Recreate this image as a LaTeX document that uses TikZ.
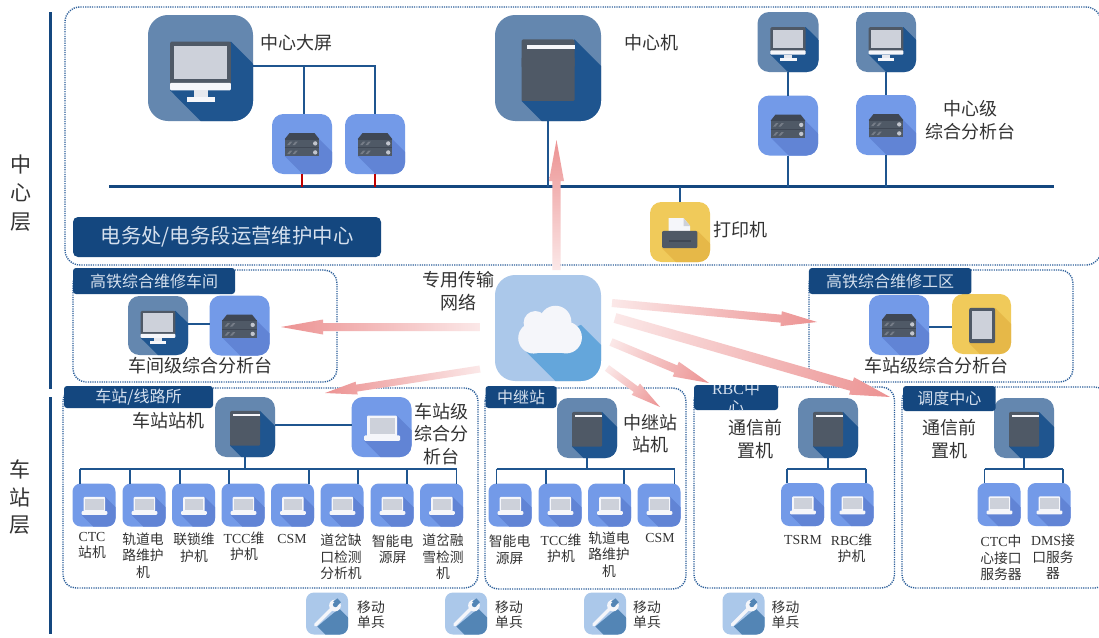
\documentclass[tikz,border=0pt]{standalone}
\usepackage{fontspec}
\setmainfont{Noto Sans CJK SC}
\newfontfamily\latf{Liberation Serif}
\usetikzlibrary{calc}
\definecolor{cNavy}{HTML}{14477F}
\definecolor{cLine}{HTML}{1F558F}
\definecolor{cDot}{HTML}{2C5F9A}
\definecolor{cSteel}{HTML}{6487AF}
\definecolor{cSteelD}{HTML}{1F558F}
\definecolor{cBlue}{HTML}{739AE8}
\definecolor{cBlueD}{HTML}{6184D5}
\definecolor{cSky}{HTML}{ABC8EA}
\definecolor{cSkyD}{HTML}{64A6DB}
\definecolor{cWrD}{HTML}{5385B5}
\definecolor{cYel}{HTML}{F0CA5A}
\definecolor{cYelD}{HTML}{E6B848}
\definecolor{cFrame}{HTML}{4F5966}
\definecolor{cDark}{HTML}{3F4754}
\definecolor{cScr}{HTML}{CDD1DA}
\definecolor{cWhite}{HTML}{F5F6FA}
\definecolor{cStand}{HTML}{E6E8EE}
\definecolor{cTxt}{HTML}{333333}
\definecolor{cHdrT}{HTML}{D5E0EE}
\definecolor{cArrA}{HTML}{FBE8E8}
\definecolor{cArrB}{HTML}{EC9292}
\newcommand\lat[1]{{\latf #1}}
\tikzset{
  iconbox/.style={inner sep=0pt,outer sep=0pt},
  zone/.style={draw=cDot,line width=1.4pt,dash pattern=on 1.2pt off 1.1pt,rounded corners=13pt},
  hdr/.style={fill=cNavy,rounded corners=3pt,inner sep=0pt,outer sep=0pt,text=cHdrT,font=\fontsize{16}{19}\selectfont},
  lblL/.style={inner sep=0pt,align=center,text=cTxt,font=\fontsize{18}{22.5}\selectfont},
  lblS/.style={inner sep=0pt,align=center,text=cTxt,font=\fontsize{13.8}{16.5}\selectfont},
  lay/.style={inner sep=0pt,text=cTxt,font=\fontsize{21}{21}\selectfont},
  wire/.style={draw=cLine,line width=1.7pt},
  bus/.style={draw=cNavy,line width=3pt},
  redwire/.style={draw=red!75!black,line width=1.7pt},
}
% --- a band of long shadow between two diagonals
\newcommand\shad[5]{\fill[#1] (#2,#3)--++(120,120)--(#4+120,#5+120)--(#4,#5)--cycle;}
\newcommand\gMon[1]{\shad{#1}{29}{-25}{-29}{21}
  \fill[cFrame,rounded corners=1.5pt] (-29,-25) rectangle (29,16);
  \fill[cScr] (-25,-20.5) rectangle (25,10.5);
  \fill[cWhite,rounded corners=1pt] (-29,14) rectangle (29,21);
  \fill[cStand] (-6,21) rectangle (7,27);
  \fill[cWhite] (-13,27) rectangle (14,32);}
\newcommand\gSrv[1]{\shad{#1}{29}{-8}{-29}{20}
  \fill[cDark] (-21,-18)--(21,-18)--(29,-8)--(-29,-8)--cycle;
  \fill[cFrame] (-29,-9) rectangle (29,20);
  \draw[cDark,line width=.7pt] (-29,6)--(29,6);
  \fill[cDark] (-29,-9) rectangle (29,-7.5);
  \foreach \yy in {-1,14}{
    \fill[cScr!90!cFrame] (22,\yy) circle (3.6);
    \foreach \xa in {-25,-16}{\fill[cFrame!78!white] (\xa,\yy+3)--(\xa+4,\yy+3)--(\xa+9,\yy-3)--(\xa+5,\yy-3)--cycle;}}}
\newcommand\gTow[1]{\shad{#1}{25}{-27}{-25}{31}
  \fill[cFrame,rounded corners=2pt] (-25,-27) rectangle (25,0);
  \fill[cFrame,rounded corners=1pt] (-25,-10) rectangle (25,31);
  \fill[cWhite] (-20,-22) rectangle (25,-18);}
\newcommand\gLap[1]{\shad{#1}{26}{-19}{-29}{23}
  \fill[cWhite,rounded corners=1pt] (-24,-19) rectangle (26,17);
  \fill[cScr] (-20,-15) rectangle (23,11);
  \fill[cWhite,rounded corners=1pt] (-29,14) rectangle (31,23);}
\newcommand\gCloud[1]{\shad{#1}{31}{-3}{-21}{22}
  \fill[cWhite] (7,-6) circle (15);
  \fill[cWhite] (-12,-5) circle (11);
  \fill[cWhite] (-13.5,9.5) circle (14.6);
  \fill[cWhite] (17,9) circle (15);
  \fill[cWhite] (-13,-3) rectangle (17,24);}
\newcommand\gPrn[1]{\shad{#1}{29}{-2}{-30}{27}
  \fill[cWhite] (-19,-23)--(6,-23)--(17,-10)--(17,5)--(-19,5)--cycle;
  \fill[cScr] (6,-23)--(17,-10)--(6,-10)--cycle;
  \fill[cFrame,rounded corners=2pt] (-30,-2) rectangle (29,27);
  \fill[cDark] (-19,13) rectangle (19,17);}
\newcommand\gTab[1]{\shad{#1}{23}{-27}{-21}{32}
  \fill[cFrame,rounded corners=2pt] (-21,-27) rectangle (23,32);
  \fill[cScr] (-16,-21) rectangle (18,25);}
\newcommand\gWr[1]{\shad{#1}{29}{-12}{-23}{31}
  \draw[cWhite,line width=3.3pt,line cap=round] (-27,27)--(12,-12);
  \fill[cWhite] (19,-19) circle (14);
  \fill[#1] (20,-21) circle (6);
  \fill[#1] (15,-29)--(25,-36)--(33,-27)--(25,-19)--cycle;}
% name, cx, cy, w, h, bg, shadow colour, glyph
\newcommand\icon[8]{%
  \pgfmathsetmacro\rr{0.19*#4}%
  \node[iconbox,fill=#6,minimum width=#4pt,minimum height=#5pt,rounded corners=\rr pt] (#1) at (#2,#3) {};
  \begin{scope}
    \clip[rounded corners=\rr pt] (#1.south west) rectangle (#1.north east);
    \begin{scope}[shift={(#2,#3)},xscale=#4/100,yscale=#5/100]
      #8{#7}
    \end{scope}
  \end{scope}}
\newcommand\mon[5]{\icon{#1}{#2}{#3}{#4}{#5}{cSteel}{cSteelD}{\gMon}}
\newcommand\tow[5]{\icon{#1}{#2}{#3}{#4}{#5}{cSteel}{cSteelD}{\gTow}}
\newcommand\srv[3]{\icon{#1}{#2}{#3}{60}{60}{cBlue}{cBlueD}{\gSrv}}
\newcommand\lap[3]{\icon{#1}{#2}{#3}{43}{43}{cBlue}{cBlueD}{\gLap}}
\newcommand\wrn[3]{\icon{#1}{#2}{#3}{42}{42}{cSky}{cWrD}{\gWr}}
% tail, head, shaft half width, head half width, head length
\newcommand\garrow[5]{%
  \pgfpointdiff{\pgfpointanchor{#1}{center}}{\pgfpointanchor{#2}{center}}%
  \pgfgetlastxy{\ddx}{\ddy}%
  \pgfmathsetmacro\aang{atan2(\ddy,\ddx)}%
  \pgfmathsetmacro\llen{veclen(\ddx,\ddy)}%
  \pgfpointanchor{#1}{center}\pgfgetlastxy{\ttx}{\tty}%
  \path[transform canvas={shift={(\ttx,\tty)},rotate=\aang},left color=cArrA,right color=cArrB]
    (0pt,-#3pt)--(\llen pt-#5pt,-#3pt)--(\llen pt-#5pt,-#4pt)--(\llen pt,0pt)--(\llen pt-#5pt,#4pt)--(\llen pt-#5pt,#3pt)--(0pt,#3pt)--cycle;}
\begin{document}
\begin{tikzpicture}[x=1pt,y=-1pt]
\useasboundingbox (0,0) rectangle (1099,637);
\fill[white] (0,0) rectangle (1099,637);
% layer bars
\coordinate (barA) at (50,12); \coordinate (barB) at (50,389);
\coordinate (barC) at (50,397); \coordinate (barD) at (50,634);
\draw[bus] (barA)--(barB); \draw[bus] (barC)--(barD);
\node[lay] (laya) at (21,165) {中};
\node[lay] (layb) at (21,193) {心};
\node[lay] (layc) at (21,222) {层};
\node[lay] (layd) at (20,469) {车};
\node[lay] (laye) at (20,497) {站};
\node[lay] (layf) at (20,525) {层};
% zones
\draw[zone,rounded corners=15pt] (65,7) rectangle (1101,265);
\draw[zone] (73,270) rectangle (337,382);
\draw[zone] (809,270) rectangle (1073,382);
\draw[zone] (63,388) rectangle (478,588);
\draw[zone] (485,388) rectangle (686,589);
\draw[zone] (694,387) rectangle (894.5,588);
\draw[zone] (902,387) rectangle (1108,588);
% central icons
\mon{bigscr}{200.5}{68}{105}{106}
\srv{srvA}{302}{144}
\srv{srvB}{375}{144}
\tow{cmain}{548}{68}{106}{106}
\mon{monA}{788}{42}{61}{60}
\mon{monB}{886}{42}{60}{60}
\srv{srvC}{788}{125.5}
\srv{srvD}{886}{125}
\icon{prn}{680}{232}{60}{60}{cYel}{cYelD}{\gPrn}
% central bus and wires
\coordinate (busL) at (109,186.5); \coordinate (busR) at (1054,186.5);
\draw[bus] (busL)--(busR);
\coordinate (scrTee) at (375,66);
\draw[wire] (bigscr.east |- scrTee)--(scrTee)--(scrTee |- srvB.north);
\draw[wire] (304,66)--(304,114);
\draw[redwire] (srvA.south)--(srvA.south |- busL);
\draw[redwire] (srvB.south)--(srvB.south |- busL);
\draw[wire] (cmain.south)--(cmain.south |- busL);
\draw[wire] (monA.south)--(srvC.north);
\draw[wire] (monB.south)--(srvD.north);
\draw[wire] (srvC.south)--(srvC.south |- busL);
\draw[wire] (srvD.south)--(srvD.south |- busL);
\draw[wire] (prn.north)--(prn.north |- busL);
\node[lblL] (tScr) at (296,43) {中心大屏};
\node[lblL] (tMain) at (651,43) {中心机};
\node[lblL] (tCen) at (970,120) {中心级\\综合分析台};
\node[lblL] (tPrn) at (740,230) {打印机};
\node[hdr,minimum width=308pt,minimum height=40pt,rounded corners=5pt,font=\fontsize{20.4}{24}\selectfont] (hMain) at (227,237) {电务处/电务段运营维护中心};
% workshop
\mon{wsMon}{158}{325.5}{60}{59}
\srv{wsSrv}{239.5}{325.5}
\draw[wire] (wsMon.east |- 0,324)--(wsSrv.west |- 0,324);
\node[hdr,minimum width=162pt,minimum height=26pt] (hWs) at (154,281) {高铁综合维修车间};
\node[lblL] (tWs) at (200,366) {车间级综合分析台};
% work area
\srv{waSrv}{899}{325}
\icon{waTab}{981.5}{324}{59}{60}{cYel}{cYelD}{\gTab}
\draw[wire] (waSrv.east |- 0,327)--(waTab.west |- 0,327);
\node[hdr,minimum width=162.5pt,minimum height=26pt] (hWa) at (890.2,281) {高铁综合维修工区};
\node[lblL] (tWa) at (936.5,366) {车站级综合分析台};
% cloud
\icon{cloud}{548}{328}{106}{106}{cSky}{cSkyD}{\gCloud}
\node[lblL] (tNet) at (458,291) {专用传输\\网络};
% station
\tow{stTow}{245}{427}{60}{60}
\icon{stLap0}{381.5}{427}{60}{60}{cBlue}{cBlueD}{\gLap}
\node[hdr,minimum width=149pt,minimum height=22pt] (hSt) at (138.5,397) {车站/线路所};
\node[lblL] (tSt) at (168,421) {车站站机};
\node[lblL] (tStL) at (441,434) {车站级\\综合分\\析台};
\draw[wire] (stTow.east |- 0,425)--(stLap0.west |- 0,425);
\coordinate (stL) at (80,469); \coordinate (stR) at (456.5,469);
\draw[wire] (stL)--(stR);
\draw[wire] (stTow.south)--(stTow.south |- stL);
\foreach \n/\cx/\off in {a/94/-14,b/144/-14,c/193.5/-13.5,d/243/-14,e/292.5/16.5,f/342/16,g/392/15,h/441.5/15}{
  \lap{st\n}{\cx}{505}
  \draw[wire] ([xshift=\off pt]st\n.north)--([xshift=\off pt]st\n.north |- stL);
}
\node[lblS] (ta) at (92,545.5) {\lat{CTC}\\站机};
\node[lblS] (tb) at (143,555.5) {轨道电\\路维护\\机};
\node[lblS] (tc) at (194,547.5) {联锁维\\护机};
\node[lblS] (td) at (244,546.5) {\lat{TCC}维\\护机};
\node[lblS] (te) at (292,539) {\lat{CSM}};
\node[lblS] (tf) at (341,557) {道岔缺\\口检测\\分析机};
\node[lblS] (tg) at (392.6,549) {智能电\\源屏};
\node[lblS] (th) at (443,557) {道岔融\\雪检测\\机};
% relay
\tow{reTow}{587}{428}{60}{60}
\node[hdr,minimum width=71pt,minimum height=22pt] (hRe) at (521,397) {中继站};
\node[lblL] (tRe) at (650,433.5) {中继站\\站机};
\coordinate (reL) at (496.6,469); \coordinate (reR) at (674.6,469);
\draw[wire] (reL)--(reR);
\draw[wire] (reTow.south)--(reTow.south |- reL);
\foreach \n/\cx/\off in {a/510/-13.6,b/560/-14,c/609.5/14.5,d/659/15.6}{
  \lap{re\n}{\cx}{505}
  \draw[wire] ([xshift=\off pt]re\n.north)--([xshift=\off pt]re\n.north |- reL);
}
\node[lblS] (ra) at (509.6,549.5) {智能电\\源屏};
\node[lblS] (rb) at (561,548.5) {\lat{TCC}维\\护机};
\node[lblS] (rc) at (609,554.5) {轨道电\\路维护\\机};
\node[lblS] (rd) at (660,538) {\lat{CSM}};
% RBC centre
\tow{rbTow}{828}{428}{60}{60}
\node[hdr,minimum width=84pt,minimum height=25pt] (hRb) at (736,397.5) {};
\begin{scope}
  \clip[rounded corners=3pt] (hRb.south west) rectangle (hRb.north east);
  \node[inner sep=0pt,align=center,text=cHdrT,font=\fontsize{16}{19}\selectfont] (tRbH) at (736,398) {\lat{RBC}中\\心};
\end{scope}
\node[lblL] (tRb) at (755,439) {通信前\\置机};
\coordinate (rbL) at (787,469); \coordinate (rbR) at (866,469);
\draw[wire] (rbL)--(rbR);
\draw[wire] (rbTow.south)--(rbTow.south |- rbL);
\foreach \n/\cx/\off in {a/802.5/-15.5,b/852/14}{
  \lap{rb\n}{\cx}{504.5}
  \draw[wire] ([xshift=\off pt]rb\n.north)--([xshift=\off pt]rb\n.north |- rbL);
}
\node[lblS] (ba) at (803,540) {\lat{TSRM}};
\node[lblS] (bb) at (851.5,548.5) {\lat{RBC}维\\护机};
% dispatch
\tow{diTow}{1024}{428}{60}{60}
\node[hdr,minimum width=92.6pt,minimum height=25pt] (hDi) at (949.3,398.5) {调度中心};
\node[lblL] (tDi) at (949,439) {通信前\\置机};
\coordinate (diL) at (984.5,469); \coordinate (diR) at (1063,469);
\draw[wire] (diL)--(diR);
\draw[wire] (diTow.south)--(diTow.south |- diL);
\foreach \n/\cx/\off in {a/999/-14.5,b/1049/14}{
  \lap{di\n}{\cx}{504.5}
  \draw[wire] ([xshift=\off pt]di\n.north)--([xshift=\off pt]di\n.north |- diL);
}
\node[lblS] (da) at (1001,558) {\lat{CTC}中\\心接口\\服务器};
\node[lblS] (db) at (1053,557) {\lat{DMS}接\\口服务\\器};
% mobile units
\foreach \n/\cx/\tx in {a/327/371,b/466/509,c/605/647,d/743.5/785.5}{
  \wrn{mb\n}{\cx}{613.5}
  \node[lblS,font=\fontsize{13.8}{15}\selectfont] (mt\n) at (\tx,615) {移动\\单兵};
}
% transmission arrows
\coordinate (upT) at (556.5,270); \coordinate (upH) at (556.5,140);
\coordinate (leT) at (480,327); \coordinate (leH) at (281,327);
\coordinate (stT) at (480,369); \coordinate (stH) at (325,393);
\coordinate (waT) at (612,303); \coordinate (waH) at (817,322);
\coordinate (diT) at (615,318); \coordinate (diH) at (890,397);
\coordinate (rbT) at (611,342); \coordinate (rbH) at (709,383);
\coordinate (reT) at (607,368); \coordinate (reH) at (660,407);
\garrow{upT}{upH}{4.2}{7.5}{41}
\garrow{leT}{leH}{4}{7.5}{42}
\garrow{stT}{stH}{3.5}{6.5}{32}
\garrow{waT}{waH}{4}{7.5}{36}
\garrow{diT}{diH}{5}{9}{40}
\garrow{rbT}{rbH}{4}{8}{36}
\garrow{reT}{reH}{3.5}{7}{30}
\end{tikzpicture}
\end{document}
